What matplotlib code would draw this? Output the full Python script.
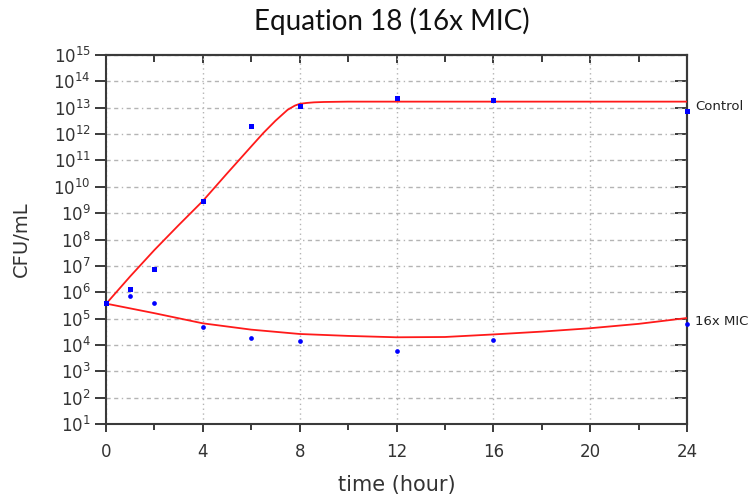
"""Time-kill curve on a log scale: Equation 18 fit, control vs 16x MIC."""

import matplotlib
matplotlib.use('Agg')
import matplotlib.pyplot as plt
from matplotlib.ticker import NullLocator

# measured points (CFU/mL)
t_control = [0, 1, 2, 4, 6, 8, 12, 16, 24]
cfu_control = [3.9e5, 1.3e6, 7.6e6, 2.8e9, 2.1e12, 1.2e13, 2.4e13, 2.0e13, 7.8e12]

t_mic = [0, 1, 2, 4, 6, 8, 12, 16, 24]
cfu_mic = [3.9e5, 7.4e5, 3.9e5, 4.7e4, 1.8e4, 1.4e4, 5.9e3, 1.6e4, 6.3e4]

# fitted model curves
t_fit_control = [0, 1, 2, 3, 4, 5, 6, 6.5, 7, 7.5, 7.8, 8, 8.3, 8.6, 9, 10, 12, 16, 20, 24]
fit_control = [3.6e5, 4.0e6, 4.0e7, 3.5e8, 2.9e9, 3.2e10, 3.4e11, 1.1e12, 3.2e12,
               8.3e12, 1.2e13, 1.4e13, 1.52e13, 1.6e13, 1.65e13, 1.7e13, 1.7e13,
               1.7e13, 1.7e13, 1.7e13]

t_fit_mic = [0, 2, 4, 6, 8, 10, 12, 14, 16, 18, 20, 22, 24]
fit_mic = [3.7e5, 1.6e5, 6.6e4, 3.8e4, 2.6e4, 2.2e4, 1.95e4, 2.0e4, 2.5e4,
           3.2e4, 4.3e4, 6.3e4, 1.05e5]

x_major = [0, 4, 8, 12, 16, 20, 24]
x_minor = [2, 6, 10, 14, 18, 22]
y_exponents = list(range(1, 16))

series_labels = ['Control', '16x MIC']
label_y = [1.07e13, 7.6e4]

spine_color = '#3a3a3a'
grid_color = '#b4b4b4'

fig = plt.figure(figsize=(7.55, 4.99), dpi=100)
ax = fig.add_axes([106 / 755, 1 - 424 / 499, 581 / 755, 369 / 499])

ax.set_yscale('log')
ax.set_xlim(0, 24)
ax.set_ylim(1e1, 1e15)

# grid: dash-dot horizontals, dotted verticals
ax.yaxis.grid(True, linestyle=(0, (3, 2.5, 3, 2.5, 1, 2.5)), color=grid_color, linewidth=1)
ax.xaxis.grid(True, linestyle=(0, (1, 2.5)), color=grid_color, linewidth=1)
ax.set_axisbelow(True)

ax.plot(t_fit_control, fit_control, color='#ff1a1a', linewidth=1.3, zorder=3)
ax.plot(t_fit_mic, fit_mic, color='#ff1a1a', linewidth=1.3, zorder=3)
ax.plot(t_control, cfu_control, 's', color='#0000ff', markersize=3.6,
        markeredgewidth=0, clip_on=False, zorder=4)
ax.plot(t_mic, cfu_mic, 'o', color='#0000ff', markersize=3.4,
        markeredgewidth=0, clip_on=False, zorder=4)

for name, yv in zip(series_labels, label_y):
    ax.annotate(name, xy=(24, yv), xytext=(6, 0), textcoords='offset points',
                ha='left', va='center', fontsize=9.5, color='#222222',
                annotation_clip=False)

# ticks
ax.set_xticks(x_major)
ax.set_xticks(x_minor, minor=True)
ax.set_xticklabels([str(v) for v in x_major])
ax.set_yticks([10.0 ** k for k in y_exponents])
ax.set_yticklabels([r'$\mathregular{10^{%d}}$' % k for k in y_exponents])
ax.yaxis.set_minor_locator(NullLocator())

ax.tick_params(axis='x', which='major', direction='out', length=6, width=1.4,
               color=spine_color, labelsize=12, pad=8, labelcolor='#333333')
ax.tick_params(axis='x', which='minor', direction='out', length=4.5, width=1.4,
               color=spine_color)
ax.tick_params(axis='y', which='major', direction='out', length=8, width=1.4,
               color=spine_color, labelsize=12, pad=3, labelcolor='#333333')

for s in ax.spines.values():
    s.set_color(spine_color)
    s.set_linewidth(1.5)

# mirrored inward ticks on top and right
top = ax.secondary_xaxis('top')
top.set_xticks(x_major)
top.set_xticks(x_minor, minor=True)
top.tick_params(which='major', direction='in', length=6, width=1.4,
                color=spine_color, labeltop=False)
top.tick_params(which='minor', direction='in', length=5, width=1.4,
                color=spine_color)
top.spines['top'].set_color(spine_color)
top.spines['top'].set_linewidth(1.5)

right = ax.secondary_yaxis('right')
right.set_yticks([10.0 ** k for k in y_exponents])
right.yaxis.set_minor_locator(NullLocator())
right.tick_params(which='major', direction='in', length=8.5, width=1.4,
                  color=spine_color, labelright=False)
right.spines['right'].set_color(spine_color)
right.spines['right'].set_linewidth(1.5)

ax.set_xlabel('time (hour)', fontsize=15, color='#333333', labelpad=10)
ax.set_ylabel('CFU/mL', fontsize=14, color='#333333', labelpad=16)

fig.text(392 / 755, 1 - 21.5 / 499, 'Equation 18 (16x MIC)', family='Lato',
         fontsize=20, ha='center', va='center', color='#111111')

plt.savefig('out.png', dpi=100)
